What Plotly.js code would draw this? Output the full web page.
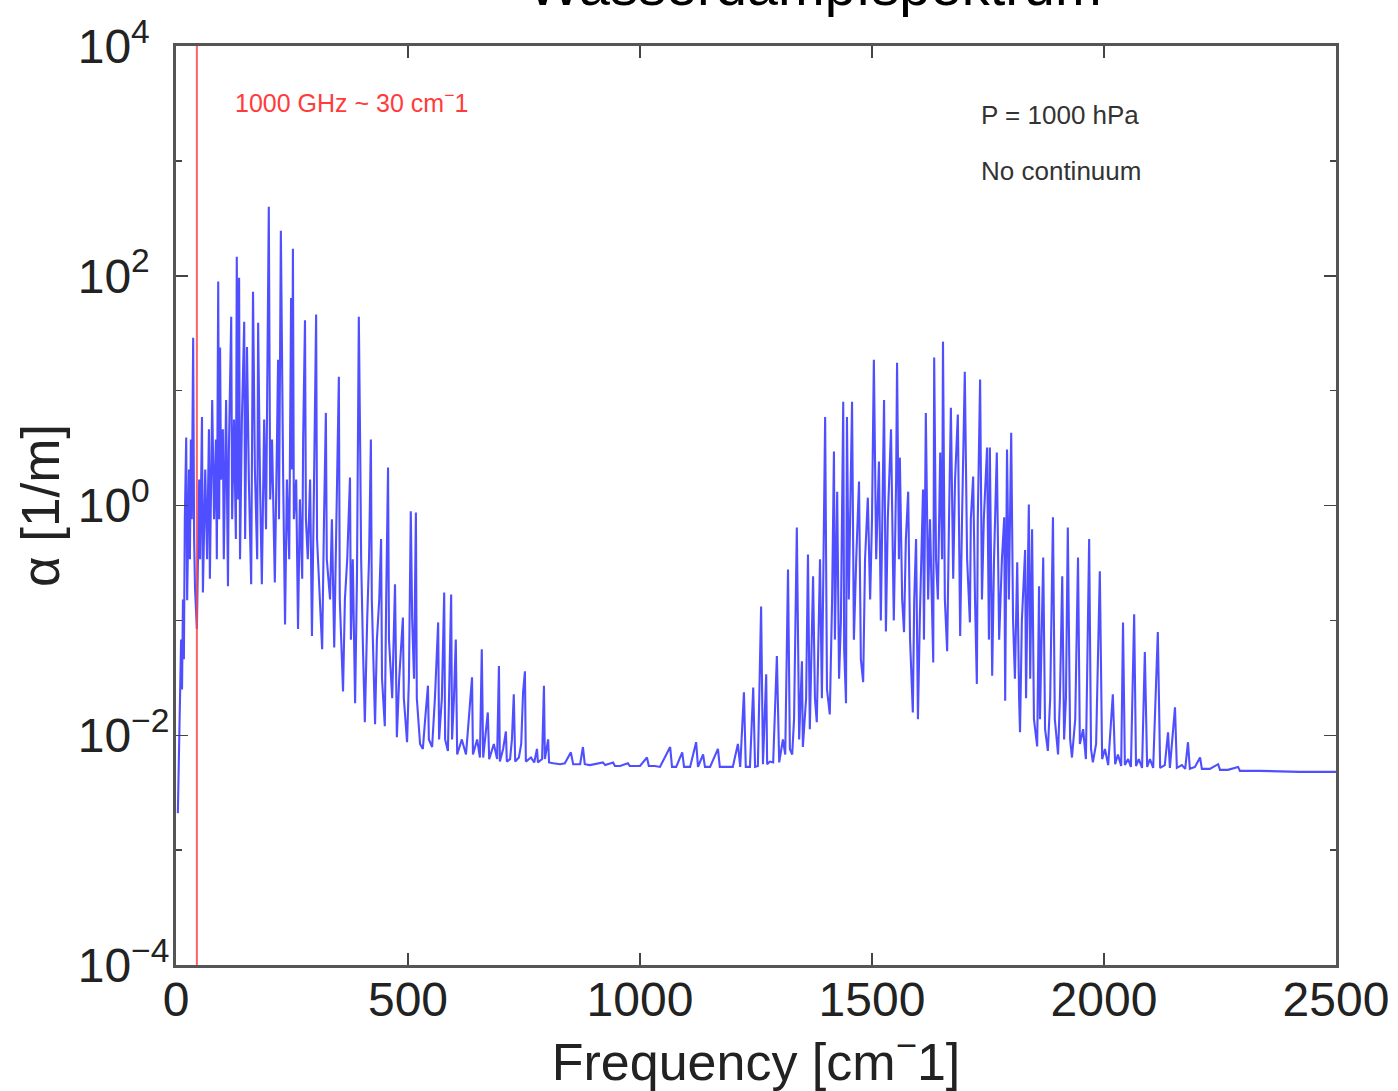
<!DOCTYPE html>
<html>
<head>
<meta charset="utf-8">
<script src="https://cdn.plot.ly/plotly-3.0.1.min.js"></script>
<style>html,body{margin:0;padding:0;background:#fff;}#chart{width:1398px;height:1091px;}</style>
</head>
<body>
<div id="chart"></div>
<script>
// Frequency (cm^-1) and absorption coefficient alpha (1/m)
var freq = [
4,6,9,11,13,15,17,19,22,24,26,28,30,32,34,37,39,41,45,50,52,56,58,63,67,71,73,78,82,86,88,91,93,95,97,101,103,108,112,114,119,121,125,129,131,134,136,138,142,147,149,153,157,162,166,170,175,177,181,185,190,194,200,203,207,213,218,220,222,226,231,235,239,244,248,250,252,254,259,263,267,272,274,278,280,284,289,293,297,302,304,310,315,319,323,325,332,336,341,345,351,353,360,364,369,375,377,381,386,390,394,397,399,403,407,412,416,420,422,429,433,438,442,444,450,453,457,459,466,472,474,476,481,485,489,491,498,502,506,509,513,517,519,526,532,537,543,545,552,558,565,567,573,578,580,586,593,595,599,603,606,616,625,631,638,640,649,655,659,662,666,672,675,685,692,696,698,705,711,713,720,724,728,731,739,744,748,752,754,765,772,778,780,789,793,795,802,804,813,828,838,851,856,871,877,881,892,905,920,925,942,946,957,974,978,1000,1015,1019,1032,1043,1065,1069,1078,1091,1095,1108,1121,1125,1136,1140,1151,1168,1172,1188,1200,1211,1216,1224,1228,1237,1244,1248,1254,1261,1265,1272,1274,1280,1287,1295,1300,1308,1313,1319,1323,1328,1332,1338,1343,1349,1351,1358,1362,1366,1373,1377,1381,1388,1392,1399,1403,1409,1414,1418,1420,1425,1429,1433,1438,1440,1444,1446,1450,1457,1461,1466,1472,1476,1481,1485,1491,1496,1500,1504,1509,1515,1519,1526,1530,1534,1541,1545,1547,1552,1554,1558,1560,1565,1569,1573,1578,1582,1588,1591,1595,1599,1603,1610,1612,1616,1621,1625,1632,1634,1638,1642,1647,1651,1653,1657,1662,1666,1670,1675,1679,1685,1688,1690,1694,1700,1705,1711,1713,1718,1722,1726,1728,1733,1737,1741,1748,1752,1754,1759,1763,1769,1774,1780,1785,1787,1791,1795,1800,1804,1808,1813,1817,1819,1823,1830,1832,1838,1841,1845,1849,1856,1860,1862,1869,1873,1879,1884,1890,1894,1901,1905,1910,1914,1918,1922,1927,1931,1938,1944,1948,1955,1961,1968,1972,1976,1983,1991,1996,2002,2009,2013,2019,2024,2030,2037,2041,2045,2052,2058,2065,2069,2075,2082,2088,2093,2099,2106,2116,2121,2131,2138,2142,2153,2157,2168,2175,2181,2185,2196,2207,2211,2228,2246,2250,2267,2289,2293,2336,2422,2500
];
var alpha = [
0.0021,0.0062,0.0206,0.068,0.025,0.152,0.046,0.76,3.9,0.15,0.51,2.06,0.34,3.75,0.76,28.9,0.51,0.19,0.084,1.68,0.34,5.9,0.175,2.06,0.34,4.6,0.23,8.3,0.76,3.75,0.34,89,0.76,23.7,1.68,4.6,0.34,8.3,0.198,3.07,44,0.76,5.6,0.51,146,1.13,96,0.34,5.6,39.8,0.51,24,1.68,0.206,72.6,2.06,0.34,39,1.68,0.206,5.6,0.62,398,1.13,3.75,0.214,4.6,18.6,0.76,246,1.68,0.092,1.68,0.34,64,2.06,172,0.76,1.68,0.084,1.13,0.23,3.75,41,0.76,0.34,1.68,0.073,1.13,46,0.51,0.152,0.056,0.76,6.4,0.34,0.152,0.76,0.058,0.51,13.2,0.152,0.024,0.152,0.34,1.75,0.068,0.34,0.019,0.23,44,2.95,0.34,0.056,0.013,0.10,0.34,3.75,0.152,0.0125,0.068,0.152,0.51,0.031,0.012,0.152,2.14,0.068,0.021,0.206,0.021,0.0096,0.031,0.056,0.106,0.021,0.0087,0.031,0.89,0.10,0.031,0.87,0.021,0.0084,0.0076,0.0138,0.027,0.0092,0.0079,0.021,0.096,0.0092,0.021,0.175,0.0092,0.0073,0.168,0.0092,0.021,0.068,0.0068,0.0092,0.0068,0.0138,0.032,0.0068,0.0092,0.0064,0.056,0.0064,0.0092,0.0158,0.0062,0.0084,0.0062,0.040,0.0059,0.0076,0.0108,0.0059,0.0062,0.0092,0.0227,0.0059,0.0064,0.0084,0.0237,0.036,0.0059,0.0064,0.0058,0.0076,0.0058,0.0062,0.027,0.0062,0.0092,0.0058,0.0057,0.0056,0.0057,0.0071,0.0056,0.0056,0.0079,0.0056,0.0055,0.0056,0.0058,0.0055,0.0058,0.0054,0.0054,0.0057,0.0054,0.0054,0.0064,0.0054,0.0054,0.0053,0.0079,0.0053,0.0053,0.0071,0.0053,0.0053,0.0087,0.0053,0.0068,0.0053,0.0053,0.0076,0.0053,0.0053,0.0053,0.0084,0.0053,0.0237,0.0053,0.0053,0.026,0.0053,0.0054,0.132,0.0056,0.034,0.0056,0.0059,0.0058,0.049,0.0058,0.0092,0.0068,0.277,0.0076,0.0068,0.0138,0.644,0.0092,0.044,0.0079,0.021,0.375,0.0113,0.242,0.021,0.013,0.34,0.021,5.9,0.025,0.0152,0.152,2.95,0.068,1.32,0.031,0.10,8.0,0.056,0.019,5.9,0.152,8.0,0.068,0.34,1.62,0.046,0.029,0.34,1.17,0.152,0.76,18.6,0.34,2.41,0.10,8.3,0.080,0.76,4.6,0.34,0.10,1.68,17.5,0.34,2.61,0.152,0.079,0.51,1.32,0.068,0.0158,0.152,0.51,0.0138,0.10,1.38,0.068,6.4,0.152,0.76,0.043,19.4,0.34,0.152,2.89,0.34,26.7,0.152,0.054,0.76,7.1,0.23,1.68,6.2,0.152,0.073,0.76,14.6,0.34,0.096,0.76,1.79,0.152,0.028,0.76,12.5,0.152,0.76,3.19,0.068,3.19,0.033,0.34,2.89,0.068,0.34,0.79,0.020,3.07,0.152,4.3,0.10,0.031,0.32,0.021,0.0106,0.10,0.41,0.021,1.02,0.031,0.62,0.0138,0.0080,0.198,0.0138,0.353,0.0113,0.0073,0.021,0.79,0.0138,0.0068,0.021,0.242,0.0092,0.021,0.644,0.0092,0.0064,0.0138,0.353,0.0084,0.0113,0.0062,0.51,0.0076,0.0058,0.0084,0.267,0.0062,0.0076,0.0055,0.0092,0.0227,0.0056,0.0068,0.0054,0.096,0.0055,0.0062,0.0053,0.113,0.0054,0.0062,0.0052,0.053,0.0053,0.0062,0.0052,0.079,0.0052,0.0055,0.0106,0.0052,0.0175,0.0052,0.0055,0.0051,0.0087,0.0051,0.0053,0.0064,0.0051,0.0051,0.0056,0.0050,0.0050,0.0053,0.0049,0.0049,0.0048,0.0048
];
var xTicks = [0, 500, 1000, 1500, 2000, 2500];
var yTicks = [1e-4, 1e-2, 1, 1e2, 1e4];
var yExps = ['\u22124', '\u22122', '0', '2', '4'];
var yMinorTicks = [1e-3, 1e-1, 1e1, 1e3];
var markerFreq = [45, 45];          // red reference line
var markerLabel = '1000 GHz ~ 30 cm<sup>\u2212</sup>1';
var infoLines = ['P = 1000 hPa', 'No continuum'];

var FONT = 'Liberation Sans, Arial, Helvetica, sans-serif';
var PAD = '<span style="color:rgba(0,0,0,0)">\u2212</span>';
var yTickText = yExps.map(function (e) {
  return '10<sup>' + e + (e.charAt(0) === '\u2212' ? '' : PAD) + '</sup>';
});

var traces = [
  {
    x: freq, y: alpha, type: 'scatter', mode: 'lines',
    line: {color: 'rgba(20,20,255,0.75)', width: 2.1},
    hoverinfo: 'x+y', showlegend: false
  }
];

var layout = {
  width: 1398, height: 1091,
  margin: {l: 176, r: 62, t: 46, b: 126},
  paper_bgcolor: '#fff', plot_bgcolor: '#fff',
  showlegend: false,
  font: {family: FONT, color: '#222'},
  xaxis: {
    range: [0, 2500], tickvals: xTicks,
    ticks: 'inside', ticklen: 12, tickwidth: 1.5, tickcolor: '#444',
    showline: true, linecolor: '#555', linewidth: 3, mirror: 'ticks',
    showgrid: false, zeroline: false,
    tickfont: {size: 48, family: FONT, color: '#222'},
    ticklabelstandoff: -10,
    title: {text: 'Frequency [cm<sup>\u2212</sup>1]', font: {size: 52, family: FONT, color: '#222'}, standoff: 22}
  },
  yaxis: {
    type: 'log', range: [-4, 4],
    tickmode: 'array', tickvals: yTicks, ticktext: yTickText,
    ticks: 'inside', ticklen: 12, tickwidth: 1.5, tickcolor: '#444',
    minor: {tickmode: 'array', tickvals: yMinorTicks, ticks: 'inside', ticklen: 6, tickwidth: 1.5, tickcolor: '#444', showgrid: false},
    showline: true, linecolor: '#555', linewidth: 3, mirror: 'ticks',
    showgrid: false, zeroline: false,
    tickfont: {size: 48, family: FONT, color: '#222'},
    ticklabelstandoff: -6,
    title: {text: '\u03b1 [1/m]', font: {size: 53, family: FONT, color: '#222'}, standoff: 2}
  },
  shapes: [
    {type: 'line', xref: 'x', yref: 'paper', x0: markerFreq[0], x1: markerFreq[1], y0: 0, y1: 1,
     line: {color: 'rgba(255,70,70,0.85)', width: 2}}
  ],
  annotations: [
    {text: 'Wasserdampfspektrum', xref: 'paper', yref: 'paper', x: 0.551, y: 1, xanchor: 'center', yanchor: 'bottom',
     yshift: 27, showarrow: false, font: {size: 56, family: FONT, color: '#000'}},
    {text: markerLabel, xref: 'paper', yref: 'paper', x: 0.049, y: 0.940, xanchor: 'left', yanchor: 'middle',
     showarrow: false, font: {size: 25, family: FONT, color: '#ff3b3b'}},
    {text: infoLines[0], xref: 'paper', yref: 'paper', x: 0.692, y: 0.925, xanchor: 'left', yanchor: 'middle',
     showarrow: false, font: {size: 26, family: FONT, color: '#333'}},
    {text: infoLines[1], xref: 'paper', yref: 'paper', x: 0.692, y: 0.864, xanchor: 'left', yanchor: 'middle',
     showarrow: false, font: {size: 26, family: FONT, color: '#333'}}
  ]
};

Plotly.newPlot('chart', traces, layout, {displayModeBar: false, staticPlot: true});
</script>
</body>
</html>
